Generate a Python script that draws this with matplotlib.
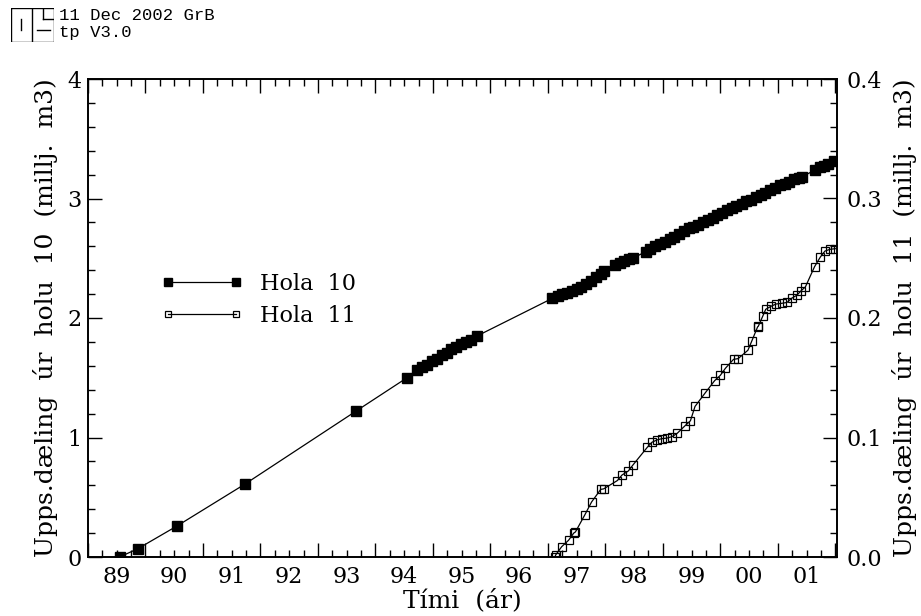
import numpy as np
import matplotlib.pyplot as plt
from matplotlib.ticker import FixedLocator, MultipleLocator, NullFormatter

W, H = 921, 616

# Hola 10 cumulative production (millj. m3), decimal year
hola10_year = [
    1989.55, 1989.87, 1990.55, 1991.73, 1993.66, 1994.55,
    1994.73, 1994.81, 1994.90, 1994.98, 1995.07, 1995.15, 1995.24,
    1995.32, 1995.40, 1995.49, 1995.57, 1995.66, 1995.77,
    1997.08, 1997.17, 1997.25, 1997.33, 1997.42, 1997.50, 1997.58,
    1997.67, 1997.75, 1997.83, 1997.92, 1997.98,
    1998.17, 1998.25, 1998.33, 1998.42, 1998.48,
    1998.70, 1998.78, 1998.87, 1998.95, 1999.03, 1999.12, 1999.20,
    1999.28, 1999.37, 1999.45, 1999.53, 1999.62, 1999.70, 1999.78,
    1999.87, 1999.95, 2000.03, 2000.12, 2000.20, 2000.28, 2000.37,
    2000.45, 2000.53, 2000.62, 2000.70, 2000.78, 2000.87, 2000.95,
    2001.03, 2001.12, 2001.20, 2001.28, 2001.37, 2001.42,
    2001.65, 2001.73, 2001.80, 2001.88, 2001.97,
]
hola10_vol = [
    0.00, 0.07, 0.26, 0.61, 1.22, 1.50,
    1.565, 1.59, 1.61, 1.64, 1.66, 1.69, 1.71,
    1.74, 1.76, 1.78, 1.80, 1.82, 1.85,
    2.165, 2.18, 2.20, 2.21, 2.23, 2.245, 2.26,
    2.285, 2.31, 2.34, 2.37, 2.39,
    2.44, 2.46, 2.475, 2.49, 2.50,
    2.555, 2.575, 2.60, 2.62, 2.635, 2.66, 2.68,
    2.70, 2.725, 2.75, 2.765, 2.78, 2.80, 2.82,
    2.84, 2.86, 2.88, 2.90, 2.92, 2.935, 2.955,
    2.975, 2.99, 3.01, 3.03, 3.05, 3.07, 3.09,
    3.11, 3.125, 3.14, 3.16, 3.175, 3.18,
    3.24, 3.26, 3.275, 3.29, 3.31,
]

# Hola 11 cumulative production (millj. m3)
hola11_year = [
    1997.12, 1997.14, 1997.24, 1997.36, 1997.45, 1997.48, 1997.64,
    1997.76, 1997.92, 1997.97, 1998.21, 1998.29, 1998.40, 1998.48,
    1998.73, 1998.81, 1998.90, 1998.98, 1999.07, 1999.16, 1999.25,
    1999.39, 1999.48, 1999.56, 1999.74, 1999.90, 2000.00, 2000.09,
    2000.23, 2000.31, 2000.48, 2000.55, 2000.65, 2000.66, 2000.74,
    2000.79, 2000.89, 2000.97, 2001.07, 2001.16, 2001.24, 2001.33,
    2001.41, 2001.48, 2001.64, 2001.74, 2001.82, 2001.91, 2002.00,
]
hola11_vol = [
    0.000, 0.002, 0.0086, 0.014, 0.020, 0.021, 0.035,
    0.046, 0.0566, 0.057, 0.064, 0.0686, 0.072, 0.077,
    0.0918, 0.096, 0.098, 0.099, 0.0995, 0.1007, 0.1035,
    0.110, 0.114, 0.126, 0.1375, 0.1475, 0.152, 0.158,
    0.1654, 0.166, 0.173, 0.181, 0.1927, 0.193, 0.2017,
    0.2073, 0.210, 0.2117, 0.2123, 0.213, 0.2165, 0.219,
    0.223, 0.226, 0.243, 0.251, 0.256, 0.2575, 0.258,
]

year_labels = ["89", "90", "91", "92", "93", "94", "95", "96",
               "97", "98", "99", "00", "01"]

plt.rcParams["font.family"] = "DejaVu Serif"
plt.rcParams["font.size"] = 16

fig = plt.figure(figsize=(W / 100, H / 100), dpi=100)


def px_box(x0, y0, x1, y1):
    return [x0 / W, 1 - y1 / H, (x1 - x0) / W, (y1 - y0) / H]


ax = fig.add_axes(px_box(88, 79, 837, 557))
ax2 = ax.twinx()

ax.plot(hola10_year, hola10_vol, color="black", lw=0.9, marker="s",
        ms=7.2, mfc="black", mec="black", label="Hola  10")
ax2.plot(hola11_year, hola11_vol, color="black", lw=0.9, marker="s",
         ms=5.6, mfc="none", mec="black", mew=0.9, label="Hola  11")

ax.set_xlim(1989.0, 2002.03)
ax.set_ylim(0, 4)
ax2.set_ylim(0, 0.4)

# year boundaries as long ticks, quarters as short ones, labels mid-year
years = np.arange(1989, 2003)
quarters = [y + q for y in range(1989, 2002) for q in (0.25, 0.5, 0.75)]
ax.xaxis.set_major_locator(FixedLocator(years))
ax.xaxis.set_major_formatter(NullFormatter())
ax.set_xticks(quarters, minor=True)
ax.set_xticklabels([year_labels[i // 3] if i % 3 == 1 else ""
                    for i in range(len(quarters))], minor=True)

ax.yaxis.set_major_locator(MultipleLocator(1))
ax.yaxis.set_minor_locator(MultipleLocator(0.2))
ax2.yaxis.set_major_locator(MultipleLocator(0.1))
ax2.yaxis.set_minor_locator(MultipleLocator(0.02))
ax2.yaxis.set_major_formatter(plt.FuncFormatter(lambda v, p: f"{v:.1f}"))

ax.tick_params(which="both", direction="in", top=True, right=False,
               width=1.0, colors="black")
ax.tick_params(which="major", length=10, pad=4.5)
ax.tick_params(which="minor", length=5)
ax.tick_params(axis="x", which="minor", pad=6.5)
ax2.tick_params(which="both", direction="in", width=1.0)
ax2.tick_params(which="major", length=10, pad=7)
ax2.tick_params(which="minor", length=5)

for a in (ax, ax2):
    for s in a.spines.values():
        s.set_linewidth(1.2)

ax.set_xlabel("Tími  (ár)", fontsize=18, labelpad=0)
ax.set_ylabel("Upps.dæling  úr  holu  10  (millj.  m3)", fontsize=18,
              labelpad=7)
ax2.set_ylabel("Upps.dæling  úr  holu  11  (millj.  m3)", fontsize=18,
               rotation=90, labelpad=7)

h1, l1 = ax.get_legend_handles_labels()
h2, l2 = ax2.get_legend_handles_labels()
ax.legend(h1 + h2, l1 + l2, loc="center left",
          bbox_to_anchor=(161 / W, 1 - 300 / H),
          bbox_transform=fig.transFigure, frameon=False, fontsize=16,
          numpoints=2, markerscale=0.72, handlelength=3.66,
          handletextpad=0.78, labelspacing=0.45, borderpad=0,
          borderaxespad=0)

# header stamp: logo box and run info
logo = fig.add_axes(px_box(11, 8, 54, 42))
logo.set_xlim(0, 43)
logo.set_ylim(34, 0)
logo.axis("off")
lk = dict(color="black", lw=1.0)
logo.plot([0, 43, 43, 0, 0], [0, 0, 34, 34, 0], **lk)
logo.plot([21, 21], [0, 34], **lk)
logo.plot([10, 10], [11, 22], **lk)
logo.plot([32, 43], [11, 11], **lk)
logo.plot([32, 32], [0, 11], **lk)
logo.plot([26, 39], [22, 22], **lk)

fig.text(59 / W, 1 - 15 / H, "11 Dec 2002 GrB", family="Liberation Mono",
         fontsize=12.4, va="center", ha="left")
fig.text(59 / W, 1 - 33 / H, "tp V3.0", family="Liberation Mono",
         fontsize=12.4, va="center", ha="left")

fig.savefig("out.png", dpi=100)
